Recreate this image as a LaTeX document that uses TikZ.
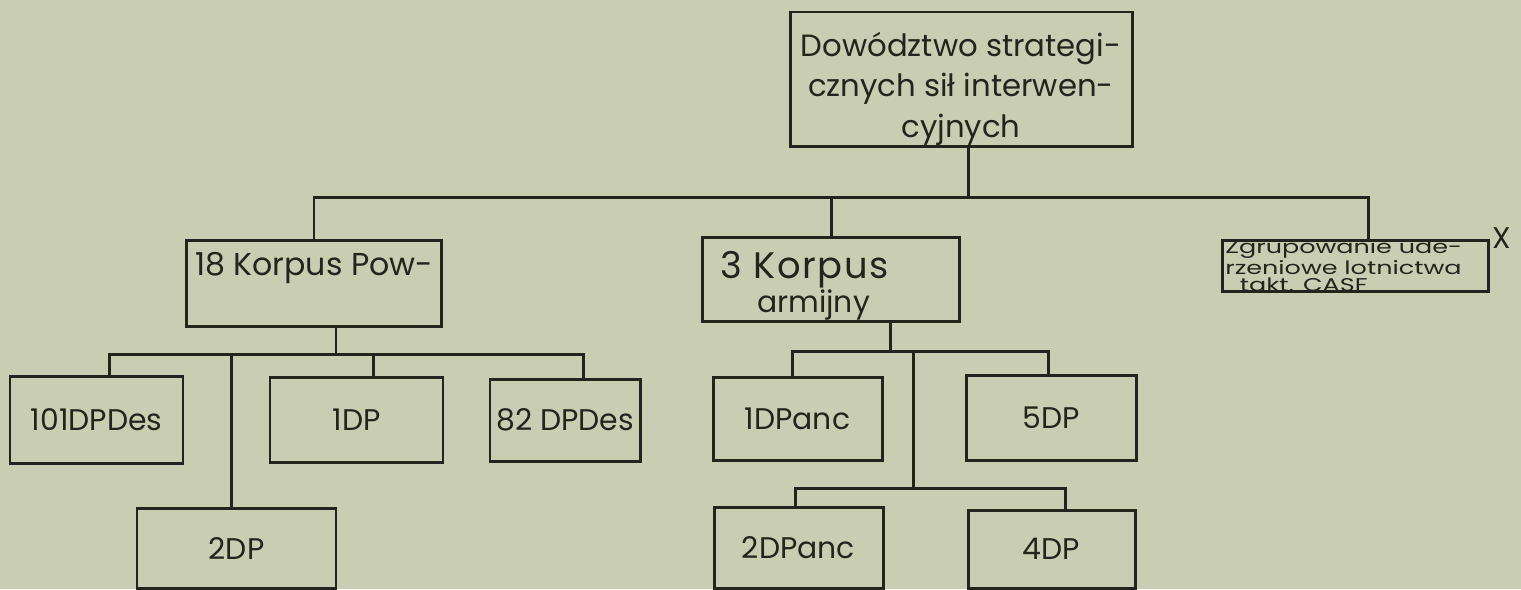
\documentclass[tikz,border=0pt]{standalone}
\usepackage{fontspec}
\usepackage{graphicx}
\setmainfont{Poppins}
\usetikzlibrary{calc}
\definecolor{paper}{RGB}{201,206,178}
\definecolor{ink}{RGB}{36,36,30}

\begin{document}
\begin{tikzpicture}[x=0.02cm,y=-0.02cm,line width=1.7pt,
  unit/.style={draw=ink,text=ink,line width=1.7pt,inner sep=0pt,
    font=\fontsize{17}{20}\selectfont},
  link/.style={draw=ink,line width=1.7pt,line join=miter}]
  \fill[paper] (0,0) rectangle (1521,589);

  % command, corps and the air group
  \node[unit,minimum width=342*0.02cm,minimum height=134*0.02cm,align=center,
    font=\fontsize{17.5}{23}\selectfont] (hq) at (961,79)
    {\rule{0pt}{25pt}Dowództwo strategi-\\cznych sił interwen-\\cyjnych};
  \node[unit,minimum width=255*0.02cm,minimum height=86*0.02cm,align=center,
    font=\fontsize{18}{22}\selectfont] (k18) at (314,283) {18 Korpus Pow-\\ };
  \node[unit,minimum width=257*0.02cm,minimum height=84*0.02cm,align=center,
    font=\fontsize{17}{19}\selectfont] (k3) at (831,279)
    {\rule{0pt}{23pt}{\fontsize{21}{22}\selectfont\addfontfeature{LetterSpace=4}3 Korpus}\rule{30pt}{0pt}\\
     armijny\rule{20pt}{0pt}};
  \node[unit,minimum width=266*0.02cm,minimum height=50*0.02cm] (casf) at (1355,266)
    {\scalebox{1.38}[1]{\parbox[c][29.5pt][c]{107pt}{\fontsize{10.5}{9.8}\selectfont
      \raggedright Zgrupowanie ude-\\rzeniowe lotnictwa\\\hspace*{6pt}takt. CASF}}};
  \node[text=ink,font=\fontsize{17}{18}\selectfont] (mark) at (1502,238) {X};

  % divisions
  \foreach \n/\x/\y/\w/\h/\t in {d101/96.5/419.5/173/87/101DPDes,
      d1/356.5/419.5/173/85/1DP, d82/565/420/150/82/82 DPDes,
      d2/236.5/548/199/80/2DP, pz1/797.5/418.5/169/83/1DPanc,
      d5/1051/417.5/170/85/5DP, pz2/798.5/547.5/169/81/2DPanc,
      d4/1051.5/549/167/78/4DP}
    \node[unit,minimum width=\w*0.02cm,minimum height=\h*0.02cm] (\n) at (\x,\y) {\t};

  % top level bus
  \coordinate (b0) at (0,197);
  \draw[link] (k18.north) -- (k18.north |- b0) -- ($(casf.north |- b0)+(13,0)$)
    -- ($(casf.north)+(13,0)$);
  \draw[link] ($(hq.south)+(7,0)$) -- ($(hq.south |- b0)+(7,0)$);
  \draw[link] (k3.north) -- (k3.north |- b0);

  % 18 Korpus
  \coordinate (b1) at (0,354);
  \draw[link] ($(k18.south)+(22,0)$) -- ($(k18.south |- b1)+(22,0)$);
  \draw[link] ($(d101.north)+(13,0)$) -- ($(d101.north |- b1)+(13,0)$)
    -- ($(d82.north |- b1)+(18,0)$) -- ($(d82.north)+(18,0)$);
  \draw[link] ($(d1.north)+(17,0)$) -- ($(d1.north |- b1)+(17,0)$);
  \draw[link] ($(d2.north)+(-5,0)$) -- ($(d2.north |- b1)+(-5,0)$);

  % 3 Korpus
  \coordinate (b2) at (0,351);
  \coordinate (b3) at (0,488);
  \draw[link] ($(k3.south)+(59,0)$) -- ($(k3.south |- b2)+(59,0)$);
  \draw[link] ($(pz1.north)+(-5,0)$) -- ($(pz1.north |- b2)+(-5,0)$)
    -- ($(d5.north |- b2)+(-3,0)$) -- ($(d5.north)+(-3,0)$);
  \draw[link] ($(k3.south |- b2)+(82,0)$) -- ($(k3.south |- b3)+(82,0)$);
  \draw[link] ($(pz2.north)+(-3,0)$) -- ($(pz2.north |- b3)+(-3,0)$)
    -- ($(d4.north |- b3)+(14,0)$) -- ($(d4.north)+(14,0)$);
\end{tikzpicture}
\end{document}
